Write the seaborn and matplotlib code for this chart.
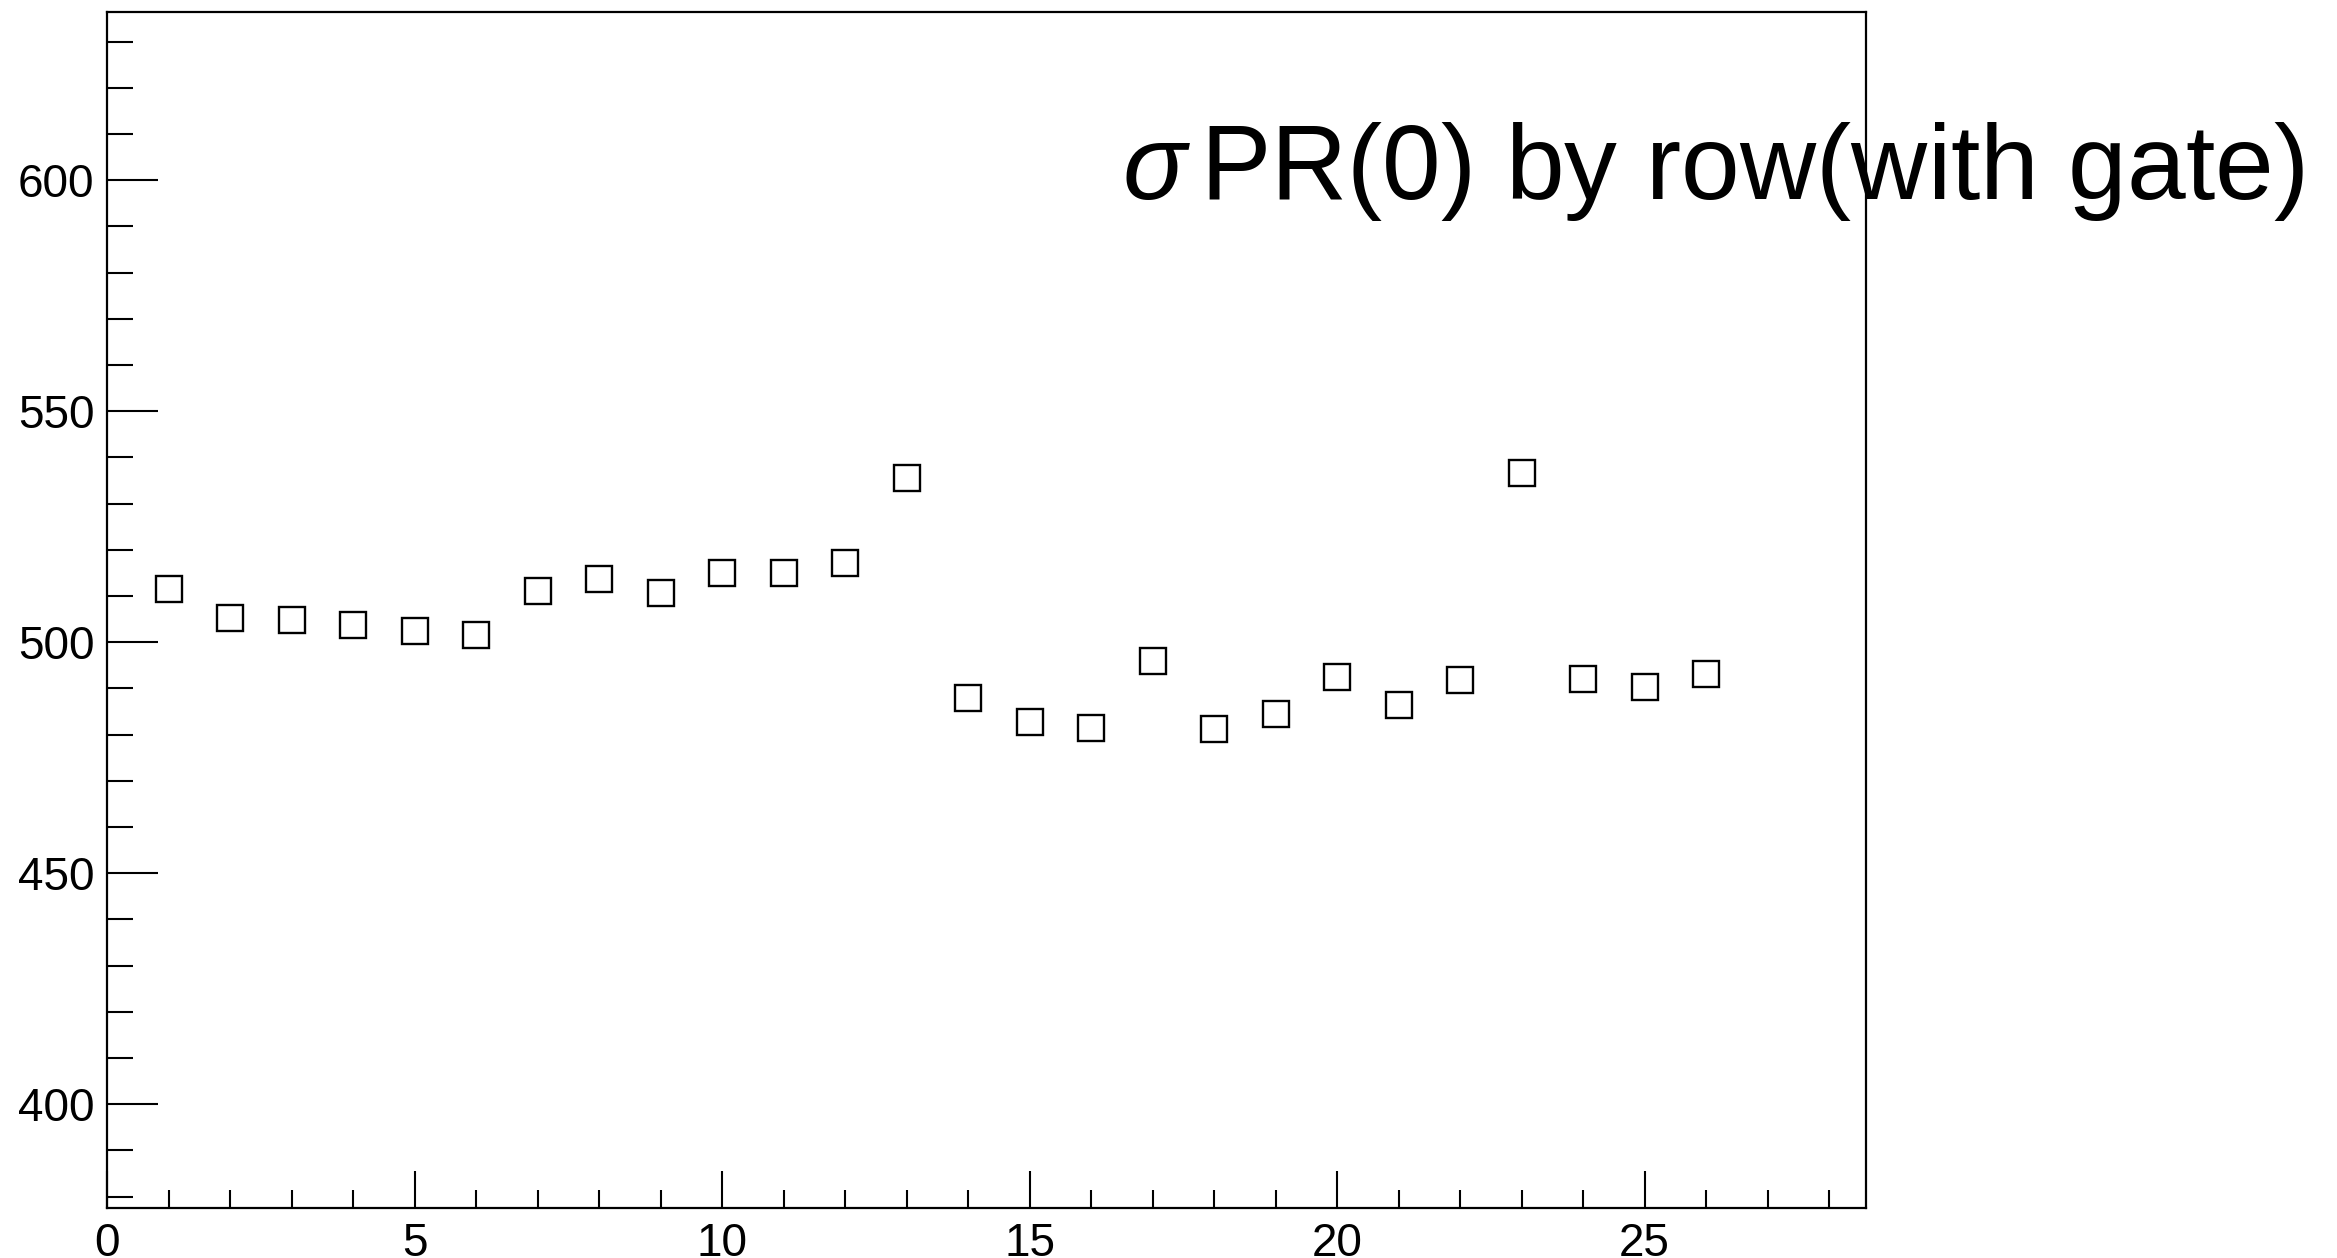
import numpy as np
import seaborn as sns
import matplotlib.pyplot as plt
from matplotlib.ticker import MultipleLocator

# sigma of PR(0) for each row, gate applied
rows = np.arange(1, 27)
sigma_pr = [511.6, 505.3, 504.8, 503.7, 502.5, 501.5, 511.1, 513.6, 510.7, 514.9,
            514.9, 517.2, 535.6, 487.9, 482.8, 481.5, 496.0, 481.3, 484.4, 492.5,
            486.4, 491.7, 536.6, 492.1, 490.2, 493.2]

x_ticks = [0, 5, 10, 15, 20, 25]
y_ticks = [400, 450, 500, 550, 600]

sns.set_style('white')
plt.rcParams['font.family'] = ['Liberation Sans', 'DejaVu Sans']
plt.rcParams['mathtext.fontset'] = 'custom'
plt.rcParams['mathtext.it'] = 'Liberation Sans:italic'
plt.rcParams['mathtext.rm'] = 'Liberation Sans'
plt.rcParams['text.color'] = 'black'

fig = plt.figure(figsize=(23.37, 12.58), dpi=100)
ax = fig.add_axes([0.0458, 0.0397, 0.7527, 0.9508])

sns.lineplot(x=rows, y=sigma_pr, ax=ax, linestyle='', marker='s', markersize=19,
             markerfacecolor='none', markeredgecolor='black', markeredgewidth=1.7,
             color='black', legend=False)

ax.set_xlim(0, 28.6)
ax.set_ylim(377.5, 636.4)
ax.set_xticks(x_ticks)
ax.set_yticks(y_ticks)
ax.xaxis.set_minor_locator(MultipleLocator(1))
ax.yaxis.set_minor_locator(MultipleLocator(10))
ax.tick_params(axis='both', which='both', direction='in', bottom=True, left=True,
               top=False, right=False, colors='black', labelcolor='black',
               labelsize=33, width=1.5)
ax.tick_params(axis='x', which='major', length=27, pad=10)
ax.tick_params(axis='x', which='minor', length=13)
ax.tick_params(axis='y', which='major', length=37, pad=9)
ax.tick_params(axis='y', which='minor', length=19)
ax.set_xlabel('')
ax.set_ylabel('')
for s in ax.spines.values():
    s.set_visible(True)
    s.set_color('black')
    s.set_linewidth(1.6)

fig.text(0.480, 0.842, r'$\sigma\,$PR(0) by row(with gate)', fontsize=76,
         color='black', ha='left', va='baseline')

plt.savefig('out.png', dpi=100)
